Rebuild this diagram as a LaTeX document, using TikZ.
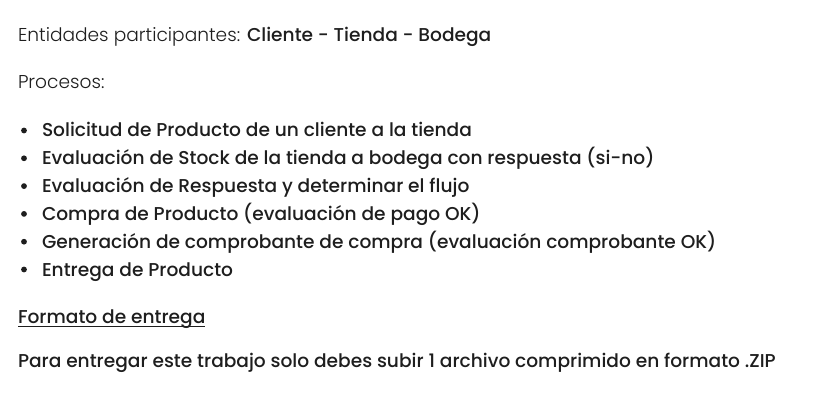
\documentclass[tikz,border=0pt]{standalone}
\usepackage{fontspec}
\setmainfont{Poppins}[UprightFont=* Light, BoldFont=* Medium]
\definecolor{txt}{HTML}{1E1E1E}
\begin{document}
\begin{tikzpicture}[x=1pt,y=1pt,
  every node/.style={inner sep=0pt,outer sep=0pt,anchor=base west,text=txt,font=\fontsize{18.6}{21}\selectfont},
  item/.style={font=\fontsize{18.6}{21}\selectfont\bfseries},
  dot/.style={circle,fill=txt,minimum size=5.8pt,inner sep=0pt,anchor=center}]
\useasboundingbox[fill=white] (0,0) rectangle (814,-409);
\node (l1) at (18,-42) {Entidades participantes: \textbf{Cliente - Tienda - Bodega}};
\node (l2) at (18,-89) {Procesos:};
\foreach \t [count=\i] in {
  Solicitud de Producto de un cliente a la tienda,
  Evaluación de Stock de la tienda a bodega con respuesta (si-no),
  Evaluación de Respuesta y determinar el flujo,
  Compra de Producto (evaluación de pago OK),
  Generación de comprobante de compra (evaluación comprobante OK),
  Entrega de Producto}{
  \node[item] (b\i) at (42,{-137-27.8*(\i-1)}) {\t};
  \node[dot] (d\i) at (24,{-137-27.8*(\i-1)+6.5}) {};
}
\node[item] (f) at (18,-323) {Formato de entrega};
\draw[txt,line width=1.2pt] ([yshift=-3.2pt]f.base west) -- ([yshift=-3.2pt]f.base east);
\node[item] (p) at (18,-367) {Para entregar este trabajo solo debes subir 1 archivo comprimido en formato .ZIP};
\end{tikzpicture}
\end{document}
